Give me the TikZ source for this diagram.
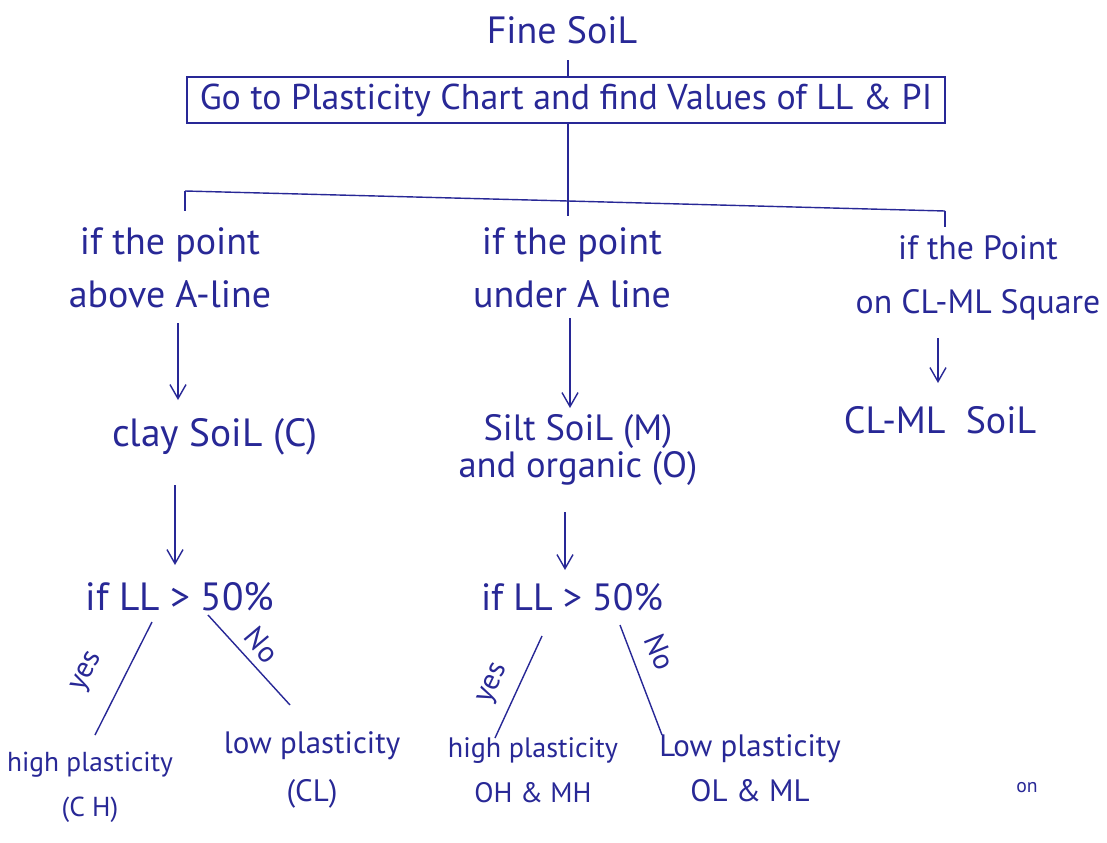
\documentclass[tikz,border=0pt]{standalone}
\usepackage{fontspec}
\setmainfont{PT Sans}
\usetikzlibrary{arrows.meta, calc}
\definecolor{ink}{RGB}{40,40,150}

\begin{document}
\begin{tikzpicture}[x=0.025cm, y=-0.025cm,
    hand/.style={text=ink, font=\fontsize{27}{38}\selectfont, align=center, inner sep=2pt},
    leaf/.style={hand, font=\fontsize{20}{32}\selectfont},
    tag/.style={hand, font=\fontsize{21}{25}\selectfont},
    wire/.style={draw=ink, line width=1pt},
    down/.style={wire, -{Straight Barb[length=3.5mm, width=4mm]}}]
    \useasboundingbox (0, 0) rectangle (1107, 843);

    \coordinate (busL) at (185, 191);
    \coordinate (busM) at (568, 201);
    \coordinate (busR) at (945, 211);
    \coordinate (dropL) at (185, 211);
    \coordinate (dropM) at (568, 216);
    \coordinate (dropR) at (945, 227);

    \node [hand] (fine) at (562, 30) {Fine SoiL};
    \node [hand, font=\fontsize{25.5}{30}\selectfont, draw=ink, line width=1pt, minimum width=18.95cm, minimum height=1.15cm] (chart) at (566, 100) {Go to Plasticity Chart and find Values of LL \& PI};

    \node [hand] (hdrA) at (170, 268) {if the point\\above A-line};
    \node [hand] (hdrM) at (572, 268) {if the point\\under A line};
    \node [hand, font=\fontsize{24}{38}\selectfont] (hdrC) at (978, 278) {if the Point\\on CL-ML Square};

    \node [hand, font=\fontsize{28}{30}\selectfont] (clay) at (215, 437) {clay SoiL (C)};
    \node [hand, font=\fontsize{26}{26}\selectfont] (silt) at (578, 450) {Silt SoiL (M)\\and organic (O)};
    \node [hand] (clml) at (940, 420) {CL-ML\ \ SoiL};

    \node [hand, font=\fontsize{28}{30}\selectfont] (llA) at (180, 597) {if LL > 50\%};
    \node [hand, font=\fontsize{27}{30}\selectfont] (llM) at (572, 597) {if LL > 50\%};

    \node [leaf, font=\fontsize{19.5}{32}\selectfont] (ch) at (90, 787) {high plasticity\\(C H)};
    \node [leaf, font=\fontsize{22}{34}\selectfont] (cl) at (312, 770) {low plasticity\\(CL)};
    \node [leaf] (ohmh) at (533, 770) {high plasticity\\OH \& MH};
    \node [leaf, font=\fontsize{22}{32}\selectfont] (olml) at (750, 768) {Low plasticity\\OL \& ML};

    \node [tag, rotate=62] (yesA) at (88, 672) {yes};
    \node [tag, rotate=-50] (noA) at (262, 645) {No};
    \node [tag, rotate=65] (yesM) at (494, 684) {yes};
    \node [tag, rotate=-68] (noM) at (660, 652) {No};

    \node [hand, font=\fontsize{14}{16}\selectfont] (stray) at (1027, 788) {on};

    \draw [wire] ($(fine) + (6, 30)$) -- ($(chart) + (2, -24)$);
    \draw [wire] ($(chart) + (2, 22)$) -- (busM);
    \draw [wire] (busL) -- (busM) -- (busR);
    \draw [wire] (busL) -- (dropL);
    \draw [wire] (busM) -- (dropM);
    \draw [wire] (busR) -- (dropR);

    \draw [down] ($(hdrA) + (8, 55)$) -- ($(clay) + (-37, -37)$);
    \draw [down] ($(clay) + (-40, 48)$) -- ($(llA) + (-5, -32)$);
    \draw [down] ($(hdrM) + (-2, 50)$) -- ($(silt) + (-8, -42)$);
    \draw [down] ($(silt) + (-13, 62)$) -- ($(llM) + (-7, -27)$);
    \draw [down] ($(hdrC) + (-40, 60)$) -- ($(clml) + (-2, -37)$);

    \draw [wire] ($(llA) + (-28, 25)$) -- ($(ch) + (5, -52)$);
    \draw [wire] ($(llA) + (28, 18)$) -- ($(cl) + (-22, -65)$);
    \draw [wire] ($(llM) + (-30, 39)$) -- ($(ohmh) + (-38, -32)$);
    \draw [wire] ($(llM) + (48, 28)$) -- ($(olml) + (-88, -33)$);
\end{tikzpicture}
\end{document}
